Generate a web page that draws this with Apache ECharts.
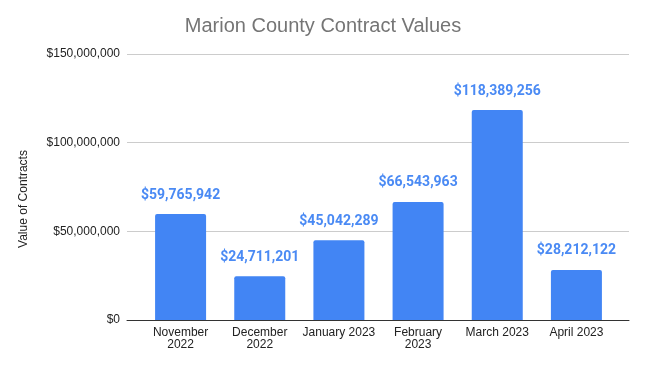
<!DOCTYPE html>
<html>
<head>
<meta charset="utf-8">
<script src="https://cdn.jsdelivr.net/npm/echarts@6/dist/echarts.min.js"></script>
<style>html,body{margin:0;padding:0;background:#fff}#c{width:646px;height:368px}</style>
</head>
<body>
<div id="c"></div>
<script>
const categories = ['November\n2022', 'December\n2022', 'January 2023', 'February\n2023', 'March 2023', 'April 2023'];
const contractValues = [59765942, 24711201, 45042289, 66543963, 118389256, 28212122];
const yTicks = { min: 0, max: 150000000, interval: 50000000 };

function money(v) {
  return '$' + Math.round(v).toString().replace(/\B(?=(\d{3})+(?!\d))/g, ',');
}

const chart = echarts.init(document.getElementById('c'), null, { renderer: 'canvas' });
chart.setOption({
  animation: false,
  backgroundColor: '#ffffff',
  title: {
    text: 'Marion County Contract Values',
    left: 'center',
    top: 16,
    padding: 0,
    textStyle: { fontFamily: 'Liberation Sans, Arial, sans-serif', fontSize: 20, fontWeight: 'normal', color: '#757575' }
  },
  grid: [
    { left: 141, right: 30, top: 54, bottom: 48 },
    { left: 127, right: 17, top: 54, bottom: 48 }
  ],
  xAxis: [
    {
      type: 'category', gridIndex: 0, data: categories,
      axisLine: { show: false }, axisTick: { show: false },
      axisLabel: { interval: 0, margin: 7, color: '#222222', fontSize: 12, lineHeight: 12, fontFamily: 'Liberation Sans, Arial, sans-serif' }
    },
    {
      type: 'category', gridIndex: 1, data: [''],
      axisLine: { show: true, lineStyle: { color: '#333333', width: 1 } },
      axisTick: { show: false }, axisLabel: { show: false }
    }
  ],
  yAxis: [
    {
      type: 'value', gridIndex: 0, min: yTicks.min, max: yTicks.max, interval: yTicks.interval,
      axisLabel: { show: false }, splitLine: { show: false }, axisLine: { show: false }, axisTick: { show: false }
    },
    {
      type: 'value', gridIndex: 1, min: yTicks.min, max: yTicks.max, interval: yTicks.interval,
      axisLine: { show: false }, axisTick: { show: false },
      axisLabel: { margin: 7, color: '#222222', fontSize: 12, fontFamily: 'Liberation Sans, Arial, sans-serif', formatter: v => money(v) },
      splitLine: { show: true, lineStyle: { color: '#cccccc', width: 1 } }
    }
  ],
  graphic: [{
    type: 'text',
    x: 24, y: 199,
    rotation: Math.PI / 2,
    style: {
      text: 'Value of Contracts',
      fill: '#222222',
      font: '12px "Liberation Sans", Arial, sans-serif',
      align: 'center',
      verticalAlign: 'middle'
    }
  }],
  series: [{
    type: 'bar',
    xAxisIndex: 0, yAxisIndex: 0,
    data: contractValues,
    barWidth: 51,
    itemStyle: { color: '#4285F4', borderRadius: [2, 2, 0, 0] },
    label: {
      show: true, position: 'top', distance: 12,
      formatter: p => money(p.value),
      color: '#4A8AF4', fontSize: 14, fontWeight: 'bold', fontFamily: 'Roboto, sans-serif'
    }
  }]
});
</script>
</body>
</html>
